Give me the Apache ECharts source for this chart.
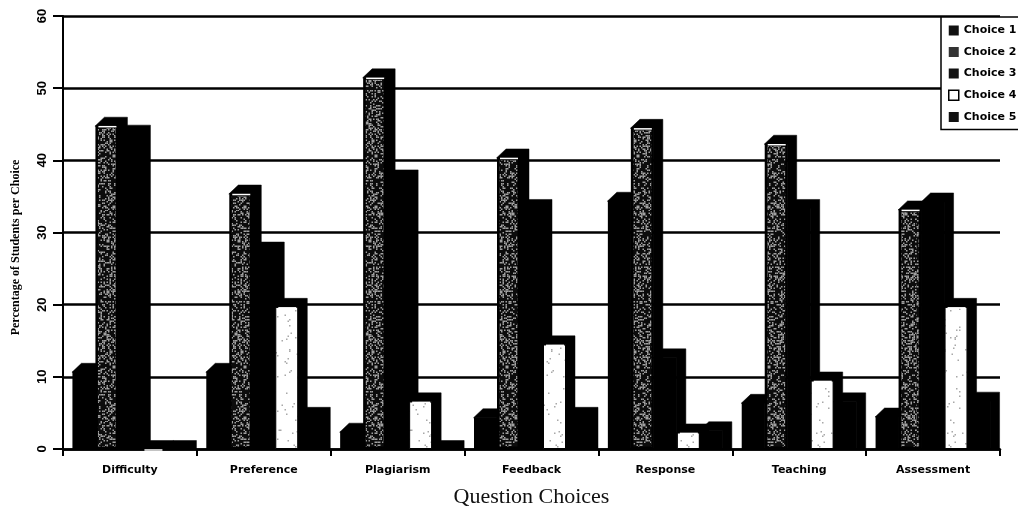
<!DOCTYPE html>
<html><head><meta charset="utf-8">
<style>html,body{margin:0;padding:0;background:#fff;overflow:hidden}#c{width:1018px;height:508px}</style>
<script src="https://cdn.jsdelivr.net/npm/echarts@6/dist/echarts.min.js"></script>
</head><body><div id="c"></div>
<script>
const categories = ['Difficulty','Preference','Plagiarism','Feedback','Response','Teaching','Assessment'];
const choice1 = [10.7,10.7,2.4,4.4,34.4,6.4,4.5];
const choice2 = [44.8,35.4,51.5,40.4,44.5,42.3,33.2];
const choice3 = [43.7,27.5,37.5,33.4,12.7,33.4,34.3];
const choice4 = [0,19.7,6.6,14.5,2.3,9.5,19.7];
const choice5 = [0,4.6,0,4.6,2.6,6.6,6.7];
const names = ['Choice 1','Choice 2','Choice 3','Choice 4','Choice 5'];
const values = [choice1,choice2,choice3,choice4,choice5];
const barW = 23, depX = 9, depY = 8.5;

// fixed halftone textures (scan-like mottling of the bar faces)
function texture(bg, fg, threshold, cell){
  const W = 131, H = 211;
  const c = document.createElement('canvas'); c.width = W; c.height = H;
  const g = c.getContext('2d'); g.fillStyle = bg; g.fillRect(0,0,W,H); g.fillStyle = fg;
  let s = 12345;
  for(let y=0;y<H;y+=cell) for(let x=0;x<W;x+=cell){
    s = (s*48271) % 2147483647;
    if((s%100) < threshold) g.fillRect(x,y,cell,cell);
  }
  return {image:c,repeat:'repeat'};
}
const faces = [
  {color:'#000'},
  {color:texture('#0c0c0c','#a0a0a0',32,1.5)},
  {color:'#000'},
  {color:texture('#fff','#a8a8a8',3,1.5)},
  {color:'#000'}
];

const series = [];
names.forEach((name,i)=>{
  series.push({name,type:'bar',data:values[i],barWidth:barW,barGap:0,z:10+2*i,
    itemStyle:{borderColor:'#000',borderWidth:i===3?1:(i===1?2.5:0),color:faces[i].color}});
  series.push({name:name+' depth',type:'custom',z:11+2*i,silent:true,
    data:values[i].map((v,k)=>[k,v]),
    encode:{x:0,y:1},
    renderItem(params,api){
      const top = api.coord([api.value(0),api.value(1)]);
      const base = api.coord([api.value(0),0]);
      const l = top[0]+(i-2.5)*barW, r = l+barW;
      return {type:'group',children:[
        {type:'polygon',shape:{points:[[l-0.5,top[1]+0.5],[l+depX,top[1]-depY],[r+depX,top[1]-depY],[r+depX,base[1]],[r-0.5,base[1]],[r-0.5,top[1]+0.5]]},style:{fill:'#000',stroke:'#000',lineWidth:0.5}},
        ...(i===1||i===3?[{type:'line',shape:{x1:l+3,y1:top[1]+1,x2:r-2,y2:top[1]+1},style:{stroke:'#fff',lineWidth:1.5}}]:[])
      ]};
    }});
});

const chart = echarts.init(document.getElementById('c'),null,{renderer:'canvas'});
chart.setOption({
  animation:false,
  backgroundColor:'#fff',
  grid:{left:63,right:18,top:16,bottom:59,containLabel:false,outerBoundsMode:'none'},
  legend:{
    data:names.map((n,i)=>({name:n,icon:'rect',itemStyle:{color:i===3?'#fff':(i===1?'#333':'#111'),borderColor:'#000',borderWidth:i===3?1.5:0}})),
    orient:'vertical',left:941,top:17,
    padding:[8,12,7,7],itemGap:10.5,itemWidth:10,itemHeight:10,
    backgroundColor:'#fff',borderColor:'#000',borderWidth:1.5,z:100,selectedMode:false,
    textStyle:{fontFamily:'DejaVu Sans',fontWeight:'bold',fontSize:11,color:'#000'}
  },
  xAxis:{type:'category',data:categories,
    name:'Question Choices',nameLocation:'middle',nameGap:37,
    nameTextStyle:{fontFamily:'Liberation Serif',fontSize:22,color:'#111'},
    axisLine:{lineStyle:{color:'#000',width:2.5}},
    axisTick:{show:true,alignWithLabel:false,length:7,lineStyle:{color:'#000',width:2}},
    axisLabel:{fontFamily:'DejaVu Sans',fontWeight:'bold',fontSize:11,color:'#000',margin:16},
    splitLine:{show:false}},
  yAxis:{type:'value',min:0,max:60,interval:10,
    name:'Percentage of Students per Choice',nameLocation:'middle',nameGap:41,nameRotate:90,
    nameTextStyle:{fontFamily:'Liberation Serif',fontWeight:'bold',fontSize:12,color:'#000',padding:[0,30,0,0]},
    axisLine:{show:true,lineStyle:{color:'#000',width:2}},
    axisTick:{show:true,length:10,lineStyle:{color:'#000',width:2}},
    axisLabel:{fontFamily:'Liberation Sans',fontWeight:'bold',fontSize:13,color:'#000',rotate:90,margin:14},
    splitLine:{show:true,lineStyle:{color:'#000',width:2.5}}},
  series
});
</script></body></html>
